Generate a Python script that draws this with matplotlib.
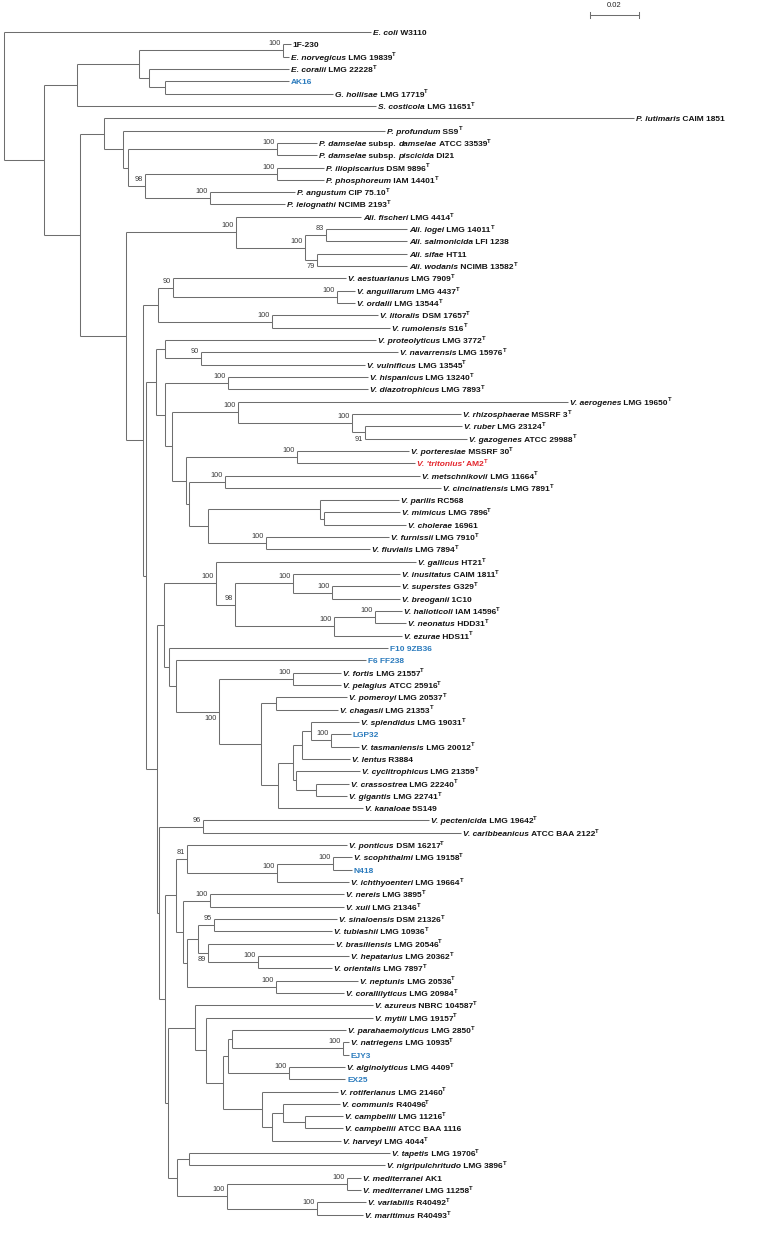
import matplotlib
matplotlib.use("Agg")
import matplotlib.pyplot as plt
from matplotlib.transforms import offset_copy

# leaves top to bottom, *...* = italic, ^T = type strain
leaf_names = [
    "*E. coli* W3110", "1F-230", "*E. norvegicus* LMG 19839^T", "*E. coralii* LMG 22228^T", "AK16",
    "*G. hollisae* LMG 17719^T", "*S. costicola* LMG 11651^T", "*P. lutimaris* CAIM 1851",
    "*P. profundum* SS9^T", "*P. damselae* subsp. *damselae* ATCC 33539^T",
    "*P. damselae* subsp. *piscicida* DI21", "*P. iliopiscarius* DSM 9896^T",
    "*P. phosphoreum* IAM 14401^T", "*P. angustum* CIP 75.10^T", "*P. leiognathi* NCIMB 2193^T",
    "*Ali. fischeri* LMG 4414^T", "*Ali. logei* LMG 14011^T", "*Ali. salmonicida* LFI 1238",
    "*Ali. sifae* HT11", "*Ali. wodanis* NCIMB 13582^T", "*V. aestuarianus* LMG 7909^T",
    "*V. anguillarum* LMG 4437^T", "*V. ordalii* LMG 13544^T", "*V. litoralis* DSM 17657^T",
    "*V. rumoiensis* S16^T", "*V. proteolyticus* LMG 3772^T", "*V. navarrensis* LMG 15976^T",
    "*V. vulnificus* LMG 13545^T", "*V. hispanicus* LMG 13240^T", "*V. diazotrophicus* LMG 7893^T",
    "*V. aerogenes* LMG 19650^T", "*V. rhizosphaerae* MSSRF 3^T", "*V. ruber* LMG 23124^T",
    "*V. gazogenes* ATCC 29988^T", "*V. porteresiae* MSSRF 30^T", "*V. 'tritonius'* AM2^T",
    "*V. metschnikovii* LMG 11664^T", "*V. cincinatiensis* LMG 7891^T", "*V. parilis* RC568",
    "*V. mimicus* LMG 7896^T", "*V. cholerae* 16961", "*V. furnissii* LMG 7910^T",
    "*V. fluvialis* LMG 7894^T", "*V. gallicus* HT21^T", "*V. inusitatus* CAIM 1811^T",
    "*V. superstes* G329^T", "*V. breoganii* 1C10", "*V. halioticoli* IAM 14596^T",
    "*V. neonatus* HDD31^T", "*V. ezurae* HDS11^T", "F10 9ZB36", "F6 FF238",
    "*V. fortis* LMG 21557^T", "*V. pelagius* ATCC 25916^T", "*V. pomeroyi* LMG 20537^T",
    "*V. chagasii* LMG 21353^T", "*V. splendidus* LMG 19031^T", "LGP32",
    "*V. tasmaniensis* LMG 20012^T", "*V. lentus* R3884", "*V. cyclitrophicus* LMG 21359^T",
    "*V. crassostrea* LMG 22240^T", "*V. gigantis* LMG 22741^T", "*V. kanaloae* 5S149",
    "*V. pectenicida* LMG 19642^T", "*V. caribbeanicus* ATCC BAA 2122^T",
    "*V. ponticus* DSM 16217^T", "*V. scophthalmi* LMG 19158^T", "N418",
    "*V. ichthyoenteri* LMG 19664^T", "*V. nereis* LMG 3895^T", "*V. xuii* LMG 21346^T",
    "*V. sinaloensis* DSM 21326^T", "*V. tubiashii* LMG 10936^T", "*V. brasiliensis* LMG 20546^T",
    "*V. hepatarius* LMG 20362^T", "*V. orientalis* LMG 7897^T", "*V. neptunis* LMG 20536^T",
    "*V. corallilyticus* LMG 20984^T", "*V. azureus* NBRC 104587^T", "*V. mytili* LMG 19157^T",
    "*V. parahaemolyticus* LMG 2850^T", "*V. natriegens* LMG 10935^T", "EJY3",
    "*V. alginolyticus* LMG 4409^T", "EX25", "*V. rotiferianus* LMG 21460^T",
    "*V. communis* R40496^T", "*V. campbellii* LMG 11216^T", "*V. campbellii* ATCC BAA 1116",
    "*V. harveyi* LMG 4044^T", "*V. tapetis* LMG 19706^T", "*V. nigripulchritudo* LMG 3896^T",
    "*V. mediterranei* AK1", "*V. mediterranei* LMG 11258^T", "*V. variabilis* R40492^T",
    "*V. maritimus* R40493^T",
]

# distance of each tip from the root (substitutions per site)
leaf_depth = [
    0.1498, 0.1171, 0.1163, 0.1163, 0.1163, 0.1343, 0.1518, 0.2571, 0.1555, 0.1278,
    0.1278, 0.1306, 0.1306, 0.1188, 0.1147, 0.1457, 0.1645, 0.1645, 0.1645, 0.1645,
    0.1396, 0.1433, 0.1433, 0.1527, 0.1576, 0.1518, 0.1608, 0.1473, 0.1486, 0.1486,
    0.2302, 0.1865, 0.1869, 0.1890, 0.1653, 0.1678, 0.1698, 0.1784, 0.1612, 0.1616,
    0.1641, 0.1571, 0.1494, 0.1682, 0.1616, 0.1616, 0.1616, 0.1624, 0.1641, 0.1624,
    0.1567, 0.1478, 0.1376, 0.1376, 0.1400, 0.1363, 0.1449, 0.1416, 0.1449, 0.1412,
    0.1453, 0.1408, 0.1400, 0.1465, 0.1735, 0.1865, 0.1400, 0.1420, 0.1420, 0.1408,
    0.1388, 0.1388, 0.1359, 0.1339, 0.1347, 0.1408, 0.1339, 0.1445, 0.1388, 0.1506,
    0.1506, 0.1396, 0.1408, 0.1408, 0.1392, 0.1392, 0.1363, 0.1371, 0.1384, 0.1384,
    0.1376, 0.1576, 0.1555, 0.1457, 0.1457, 0.1478, 0.1465,
]

isolates = ["AK16", "F10 9ZB36", "F6 FF238", "LGP32", "N418", "EJY3", "EX25"]
new_species = "*V. 'tritonius'* AM2^T"

# internal nodes: id, children (int = leaf index, str = node id), depth, bootstrap
node_ids = ["ent1", "ent3", "ent2", "ent", "A", "dam", "ilio", "ang", "ph98", "ph3", "ph2", "P",
            "alia", "alib", "alic", "ali", "angu", "aest", "lit", "v10", "nav", "prot", "hisp",
            "rub", "rhz", "aer", "port", "met", "mim", "par", "furn", "chol", "met2", "port2",
            "aer2", "hisp2", "v4", "sup", "inu", "hal", "ezu", "b98", "gal", "fort", "pom",
            "lgp", "spl", "len", "cras", "cyc", "splA", "kan", "splg", "f100", "f6", "f10",
            "gal2", "pect", "scop", "ich", "n81", "ner", "sin", "hep", "n89", "sin2", "nep",
            "sin3", "ner2", "n81b", "nat", "para", "alg", "para2", "camp", "comm", "harv", "rot",
            "para3", "myt", "azu", "tap", "medA", "var", "med", "tap2", "V8", "V7", "V6", "V5",
            "V3", "V2", "V", "B", "N1", "root"]
node_kids = [(1, 2), (4, 5), (3, "ent3"), ("ent1", "ent2"), ("ent", 6), (9, 10), (11, 12),
             (13, 14), ("ilio", "ang"), ("dam", "ph98"), (8, "ph3"), (7, "ph2"),
             (16, 17), (18, 19), ("alia", "alib"), (15, "alic"), (21, 22), (20, "angu"),
             (23, 24), ("aest", "lit"), (26, 27), (25, "nav"), (28, 29), (32, 33), (31, "rub"),
             (30, "rhz"), (34, 35), (36, 37), (39, 40), (38, "mim"), (41, 42), ("par", "furn"),
             ("met", "chol"), ("port", "met2"), ("aer", "port2"), ("hisp", "aer2"),
             ("prot", "hisp2"), (45, 46), (44, "sup"), (47, 48), ("hal", 49), ("inu", "ezu"),
             (43, "b98"), (52, 53), (54, 55), (57, 58), (56, "lgp"), ("spl", 59), (61, 62),
             (60, "cras"), ("len", "cyc"), ("splA", 63), ("pom", "kan"), ("fort", "splg"),
             (51, "f100"), (50, "f6"), ("gal", "f10"), (64, 65), (67, 68), ("scop", 69),
             (66, "ich"), (70, 71), (72, 73), (75, 76), (74, "hep"), ("sin", "n89"), (77, 78),
             ("sin2", "nep"), ("ner", "sin3"), ("n81", "ner2"), (82, 83), (81, "nat"), (84, 85),
             ("para", "alg"), (88, 89), (87, "camp"), ("comm", 90), (86, "harv"),
             ("para2", "rot"), (80, "para3"), (79, "myt"), (91, 92), (93, 94), (95, 96),
             ("medA", "var"), ("tap", "med"), ("azu", "tap2"), ("n81b", "V8"), ("pect", "V7"),
             ("gal2", "V6"), ("v4", "V5"), ("v10", "V3"), ("ali", "V2"), ("P", "V"), ("A", "B"),
             (0, "N1")]
node_depth = [0.1139, 0.0657, 0.0592, 0.0551, 0.0298, 0.1114, 0.1114, 0.0841, 0.0576, 0.0506,
              0.0486, 0.0408, 0.1314, 0.1278, 0.1229, 0.0947, 0.1359, 0.0690, 0.1094, 0.0629,
              0.0804, 0.0657, 0.0914, 0.1473, 0.1420, 0.0955, 0.1196, 0.0902, 0.1306, 0.1290,
              0.1069, 0.0833, 0.0755, 0.0743, 0.0686, 0.0657, 0.0620, 0.1339, 0.1180, 0.1514,
              0.1347, 0.0943, 0.0865, 0.1180, 0.1110, 0.1335, 0.1253, 0.1216, 0.1273, 0.1192,
              0.1180, 0.1118, 0.1049, 0.0878, 0.0702, 0.0673, 0.0653, 0.0812, 0.1343, 0.1114,
              0.0747, 0.0841, 0.0857, 0.1037, 0.0833, 0.0792, 0.1110, 0.0747, 0.0731, 0.0702,
              0.1384, 0.0931, 0.1163, 0.0914, 0.1229, 0.1139, 0.1094, 0.1053, 0.0894, 0.0824,
              0.0780, 0.0755, 0.1400, 0.1278, 0.0910, 0.0706, 0.0669, 0.0657, 0.0633, 0.0624,
              0.0580, 0.0567, 0.0498, 0.0310, 0.0163, 0.0]
node_boot = [100, None, None, None, None, 100, 100, 100, 98, None, None, None,
             83, 79, 100, 100, 100, 90, 100, None, 90, None, 100, 91, 100, 100, 100, 100,
             None, None, 100, None, None, None, None, None, None, 100, 100, 100, 100, 98,
             100, 100, None, 100, None, None, None, None, None, None, None, 100, None, None,
             None, 96, 100, 100, 81, 100, 95, 100, 89, None, 100, None, None, None, 100,
             None, 100, None, None, None, None, None, None, None, None, None, 100, 100, 100,
             None, None, None, None, None, None, None, None, None, None, None]
boot_below = ["alib", "rub", "f100", "n89"]

FONT = "Liberation Sans"


def segments(s):
    # split the markup into (text, style) pieces
    out = []
    for i, p in enumerate(s.split("*")):
        if not p:
            continue
        if i % 2:
            out.append((p, "italic"))
        elif p.endswith("^T"):
            if p[:-2]:
                out.append((p[:-2], "normal"))
            out.append(("T", "sup"))
        else:
            out.append((p, "normal"))
    return out


fig = plt.figure(figsize=(7.61, 12.40), dpi=100)
ax = fig.add_axes([0, 0, 1, 1])
ax.set_xlim(-4 / 2450, 757 / 2450)
ax.set_ylim((1240 - 32) / 12.32, -32 / 12.32)
ax.axis("off")
renderer = fig.canvas.get_renderer()

xs, ys = {}, {}
for i, d in enumerate(leaf_depth):
    xs[i], ys[i] = d, i
for nid, kids, d in zip(node_ids, node_kids, node_depth):
    xs[nid] = d
    ys[nid] = sum(ys[k] for k in kids) / 2

lc = "#6e6e6e"
for nid, kids in zip(node_ids, node_kids):
    x = xs[nid]
    ax.plot([x, x], [ys[kids[0]], ys[kids[1]]], color=lc, lw=0.75, solid_capstyle="butt")
    for k in kids:
        ax.plot([x, xs[k]], [ys[k], ys[k]], color=lc, lw=0.75, solid_capstyle="butt")

styles = {
    "normal": dict(fontsize=6, style="normal", dy=-3.0),
    "italic": dict(fontsize=6, style="italic", dy=-3.0),
    "sup": dict(fontsize=4.2, style="normal", dy=0.2),
}
_wcache = {}


def seg_width(text, st):
    key = (text, st)
    if key not in _wcache:
        kw = dict(fontsize=styles[st]["fontsize"], style=styles[st]["style"],
                  family=FONT, weight="bold")
        t1 = ax.text(0, 0, "|" + text + "|", **kw)
        t2 = ax.text(0, 0, "||", **kw)
        _wcache[key] = (t1.get_window_extent(renderer).width
                        - t2.get_window_extent(renderer).width)
        t1.remove()
        t2.remove()
    return _wcache[key]


for i, name in enumerate(leaf_names):
    col = "#141414"
    if name in isolates:
        col = "#2b7bbd"
    elif name == new_species:
        col = "#e3262d"
    dx = 2.0
    for text, st in segments(name):
        tr = offset_copy(ax.transData, fig=fig, x=dx, y=styles[st]["dy"], units="dots")
        ax.text(xs[i], ys[i], text, transform=tr, fontsize=styles[st]["fontsize"],
                style=styles[st]["style"], family=FONT, weight="bold", color=col,
                ha="left", va="baseline")
        dx += seg_width(text, st)

tr_up = offset_copy(ax.transData, fig=fig, x=-2, y=6.5, units="dots")
tr_dn = offset_copy(ax.transData, fig=fig, x=-2.5, y=-7, units="dots")
for nid, b in zip(node_ids, node_boot):
    if b is None:
        continue
    tr = tr_dn if nid in boot_below else tr_up
    ax.text(xs[nid], ys[nid], str(b), transform=tr, fontsize=5.3, family=FONT,
            color="#3a3a3a", ha="right", va="center")

# scale bar
sb_x, sb_y, sb_len = 586 / 2450, -17 / 12.32, 0.02
ax.plot([sb_x, sb_x + sb_len], [sb_y, sb_y], color=lc, lw=0.75)
for xx in (sb_x, sb_x + sb_len):
    ax.plot([xx, xx], [sb_y - 0.25, sb_y + 0.25], color=lc, lw=0.75)
ax.text(sb_x + sb_len / 2, sb_y - 0.45, "0.02", fontsize=5.5, family=FONT,
        color="#222222", ha="center", va="bottom")

fig.savefig("out.png", dpi=100)
